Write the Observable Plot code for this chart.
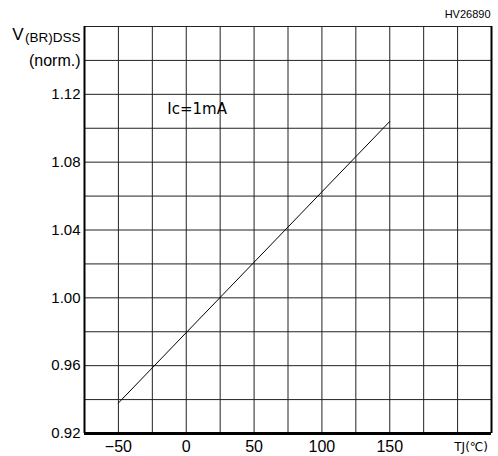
<!DOCTYPE html>
<html>
<head>
<meta charset="utf-8">
<script src="https://cdn.jsdelivr.net/npm/d3@7"></script>
<script src="https://cdn.jsdelivr.net/npm/@observablehq/plot@0.6"></script>
<style>
  html, body { margin: 0; padding: 0; background: #fff; }
  svg { display: block; }
</style>
</head>
<body>
<div id="chart"></div>
<script>
// Data
const tj = [-50, 150];               // junction temperature (°C)
const vbr = [0.938, 1.104];          // normalized V(BR)DSS
const xTicks = [-50, 0, 50, 100, 150];
const yTicks = [0.92, 0.96, 1.00, 1.04, 1.08, 1.12];
const xGrid = d3.range(-75, 226, 25);
const yGrid = [0.92, 0.94, 0.96, 0.98, 1.00, 1.02, 1.04, 1.06, 1.08, 1.10, 1.12, 1.14, 1.16];
const condition = "Ic=1mA";
const code = "HV26890";

const data = tj.map((t, i) => ({t, v: vbr[i]}));
const font = "Liberation Sans, Arial, sans-serif";

const chart = Plot.plot({
  width: 498,
  height: 456,
  marginLeft: 84,
  marginRight: 7,
  marginTop: 26,
  marginBottom: 23,
  style: {fontFamily: font, background: "#fff", color: "#000"},
  x: {domain: [-75, 225], ticks: xTicks, label: null},
  y: {domain: [0.92, 1.16], ticks: yTicks, label: null},
  marks: [
    Plot.ruleX(xGrid, {stroke: "#222", strokeWidth: 1}),
    Plot.ruleY(yGrid, {stroke: "#222", strokeWidth: 1}),
    Plot.ruleX([-75, 225], {stroke: "#000", strokeWidth: 2}),
    Plot.ruleY([0.92], {stroke: "#000", strokeWidth: 3}),
    Plot.axisY(yTicks, {tickSize: 0, tickPadding: 4, tickFormat: d => d.toFixed(2), fontSize: 15}),
    Plot.axisX(xTicks, {tickSize: 0, tickPadding: 7, tickFormat: d => d < 0 ? "−" + Math.abs(d) : String(d), fontSize: 16}),
    Plot.line(data, {x: "t", y: "v", stroke: "#000", strokeWidth: 1}),
    Plot.text([condition], {x: -14, y: 1.111, text: d => d, textAnchor: "start", fontSize: 15, fill: "#000", fontFamily: "DejaVu Sans, sans-serif"}),
    Plot.text([code], {x: 225, y: 1.16, text: d => d, textAnchor: "end", dy: -12, dx: -1, fontSize: 11}),
    Plot.text(["(norm.)"], {x: -75, y: 1.14, text: d => d, textAnchor: "end", dx: -4, fontSize: 16}),
    Plot.text(["(BR)DSS"], {x: -75, y: 1.16, text: d => d, textAnchor: "end", dx: -4, dy: 11, fontSize: 13.5}),
    Plot.text(["V"], {x: -75, y: 1.16, text: d => d, textAnchor: "end", dx: -61, dy: 8, fontSize: 17}),
    Plot.text(["TJ(℃)"], {x: 210, y: 0.92, text: d => d, textAnchor: "middle", dy: 14, fontSize: 12, fontFamily: "DejaVu Sans, sans-serif"})
  ]
});
document.getElementById("chart").appendChild(chart);
</script>
</body>
</html>
